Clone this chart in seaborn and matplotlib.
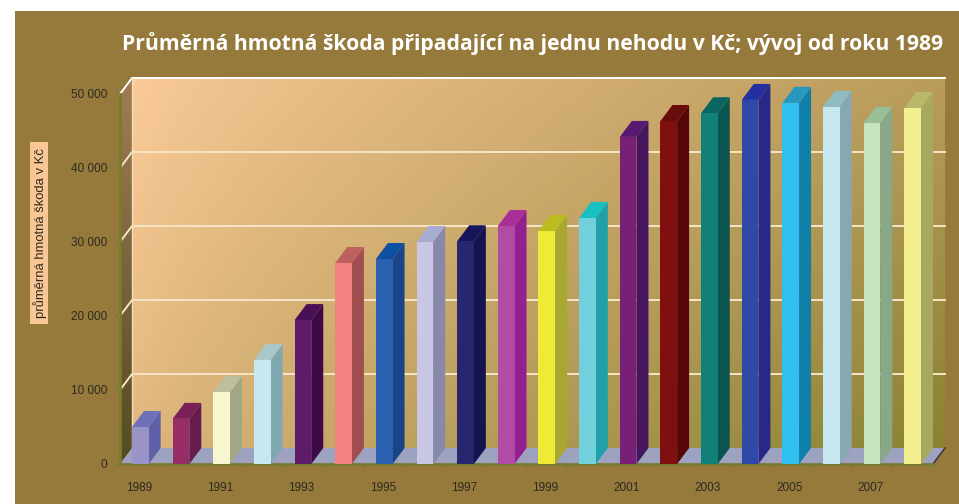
import matplotlib
matplotlib.use("Agg")
import matplotlib.pyplot as plt
from matplotlib.patches import Polygon, Rectangle
import numpy as np
import pandas as pd
import seaborn as sns

years = [str(y) for y in range(1989, 2009)]
values = [5000, 6100, 9700, 14050, 19450, 27160, 27700, 30000, 30100, 32160,
          31500, 33250, 44200, 46350, 47400, 49200, 48800, 48250, 46100, 48100]
front_colors = ["#9A93C8", "#972E68", "#F8F6CE", "#C8E8F0", "#5E1C68", "#F48080", "#2A60B0",
                "#C8C8E4", "#28266E", "#B04CA4", "#EEEA36", "#70D0DC", "#772075", "#801010",
                "#108078", "#3048A8", "#30C0F0", "#C8E8F0", "#C8E4BC", "#F4F090"]
side_colors = ["#6060A8", "#661D4E", "#A3A685", "#7FA8B0", "#3D0A48", "#A04E50", "#1A4488",
               "#8888AA", "#161450", "#922090", "#A8A830", "#20A0A8", "#45155E", "#560808",
               "#0C5450", "#282888", "#1080A8", "#88A8B0", "#88A888", "#A8A860"]
top_colors = ["#6E70B8", "#7A2058", "#BDBF9F", "#A9C8C8", "#4A1055", "#BE6060", "#0F50A0",
              "#A8ACD0", "#16145A", "#A83098", "#BCBC20", "#18C0C0", "#561A70", "#6A0C0C",
              "#0A6460", "#2430A0", "#2898C0", "#90BCC4", "#98C098", "#B8B868"]
y_ticks = [0, 10000, 20000, 30000, 40000, 50000]
y_labels = ["0", "10 000", "20 000", "30 000", "40 000", "50 000"]

title = "Průměrná hmotná škoda připadající na jednu nehodu v Kč; vývoj od roku 1989"
y_title = "průměrná hmotná škoda v Kč"

df = pd.DataFrame({"year": years, "value": values})

# Colors:
bkg_color = "#957A3B"
axis_color = "#7A7A30"
text_color = "#2E2A20"

W, H = 959, 504
fig = plt.figure(figsize=(W / 100, H / 100), dpi=100, facecolor="white")

# Background layer, in pixels:
bg = fig.add_axes([0, 0, 1, 1], zorder=0)
bg.set_xlim(0, W)
bg.set_ylim(H, 0)
bg.axis("off")
bg.add_patch(Rectangle((15, 11), W - 15, H - 11, facecolor=bkg_color, edgecolor="none"))
bg.add_patch(Rectangle((30, 142), 18, 182, facecolor="#F8C795", edgecolor="none", zorder=2))

# Back wall gradient (peach top left to olive bottom right):
corners = np.array([[[251, 203, 152], [186, 156, 92]],
                    [[226, 184, 128], [138, 130, 50]]]) / 255
u = (np.linspace(0, 1, 200) ** 0.8)[None, :, None]
v = np.linspace(0, 1, 200)[:, None, None]
wall = (corners[0, 0] * (1 - u) + corners[0, 1] * u) * (1 - v) + (corners[1, 0] * (1 - u) + corners[1, 1] * u) * v
bg.imshow(wall, extent=[132, 945, 449, 78], aspect="auto", zorder=1)

# Left side wall gradient:
side = np.linspace(0, 1, 100)[:, None, None] * (np.array([84, 74, 32]) / 255 - np.array([160, 125, 85]) / 255) \
    + np.array([160, 125, 85]) / 255
im = bg.imshow(side, extent=[120, 132, 464, 78], aspect="auto", zorder=1)
im.set_clip_path(Polygon([(120, 94), (132, 78), (132, 449), (120, 464)], transform=bg.transData))
bg.set_xlim(0, W)
bg.set_ylim(H, 0)

# Main axes sit on the front plane of the 3D box:
ax = fig.add_axes([120 / W, 1 - 464 / H, 813 / W, 370 / H], zorder=2)
ax.patch.set_alpha(0)
sns.barplot(data=df, x="year", y="value", hue="year", palette=front_colors, legend=False,
            width=0.41, saturation=1, ax=ax, zorder=5)
ax.set_xlim(-0.5, 19.5)
ax.set_ylim(0, 50000)

dx = 12 / 813 * 20
dy = 16 / 370 * 50000

# Floor:
ax.add_patch(Polygon([(-0.5, 0), (19.5, 0), (19.5 + dx, dy), (-0.5 + dx, dy)],
                     facecolor="#9CA2C0", edgecolor="none", clip_on=False, zorder=1))
ax.plot([19.5, 19.5 + dx], [0, dy], color="#3A3A40", lw=1.2, clip_on=False, zorder=2)

# Grid lines on the back wall, with their diagonal on the side wall:
for t in y_ticks[1:]:
    c = "white" if t == 50000 else "#F6E6C6"
    ax.plot([-0.5, -0.5 + dx, 19.5 + dx], [t, t + dy, t + dy], color=c, lw=1.4, clip_on=False, zorder=2)
ax.plot([-0.5 + dx, -0.5 + dx], [dy, 50000 + dy], color="#F3DDBB", lw=1, clip_on=False, zorder=2)

# Side and top faces of the bars:
for bar, sc, tc in zip(ax.patches, side_colors, top_colors):
    x0, x1, h = bar.get_x(), bar.get_x() + bar.get_width(), bar.get_height()
    ax.add_patch(Polygon([(x1, 0), (x1 + dx, dy), (x1 + dx, h + dy), (x1, h)],
                         facecolor=sc, edgecolor="none", clip_on=False, zorder=4))
    ax.add_patch(Polygon([(x0, h), (x1, h), (x1 + dx, h + dy), (x0 + dx, h + dy)],
                         facecolor=tc, edgecolor="none", clip_on=False, zorder=4))

ax.spines[["top", "right"]].set_visible(False)
ax.spines[["left", "bottom"]].set(color=axis_color, linewidth=2)
ax.set_xlabel("")
ax.set_ylabel("")
ax.set_yticks(y_ticks, y_labels)
ax.set_xticks(np.arange(0.5, 19.5), minor=False)
ax.set_xticklabels([])
ax.tick_params(axis="both", color=axis_color, length=3, width=1.5)
ax.tick_params(axis="y", labelsize=8.5, labelcolor=text_color, pad=6)
for lab in ax.get_yticklabels():
    lab.set_family("Liberation Sans")

for i, y in enumerate(years):
    if i % 2 == 0:
        ax.annotate(y, (i, 0), xytext=(-1, -17), textcoords="offset points", ha="center", va="center",
                    fontsize=8.5, color=text_color, family="Liberation Sans", annotation_clip=False)

fig.text(40 / W, 1 - 233 / H, y_title, rotation=90, ha="center", va="center", fontsize=9.4,
         color=text_color, family="Liberation Sans", zorder=3)

fig.text(122 / W, 1 - 44 / H, title, ha="left", va="center", fontsize=15.2, fontweight="bold",
         color="white", family="Open Sans", zorder=3)

plt.savefig("out.png", dpi=100)
